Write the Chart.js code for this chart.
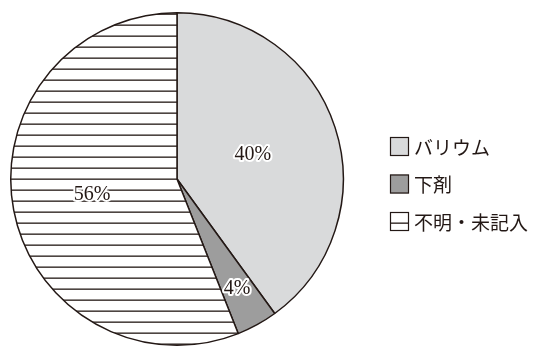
<!DOCTYPE html>
<html lang="ja">
<head>
<meta charset="utf-8">
<script src="https://cdn.jsdelivr.net/npm/chart.js@4.4.1/dist/chart.umd.min.js"></script>
<style>
  html, body { margin: 0; padding: 0; background: #fff; }
  #wrap { width: 537px; height: 347px; position: relative; }
</style>
</head>
<body>
<div id="wrap"><canvas id="pie"></canvas></div>
<script>
const categories = ["バリウム", "下剤", "不明・未記入"];
const shares = [40, 4, 56];

const INK = "#231815";
const LIGHT = "#d9dadb";
const DARK = "#9d9d9d";
// how far out (fraction of radius) each percent label sits
const labelRadius = [0.48, 0.75, 0.52];

// white with thin horizontal rules, for the "unknown" slice
function makeStripes() {
  const tile = document.createElement("canvas");
  tile.width = 8;
  tile.height = 11;
  const c = tile.getContext("2d");
  c.fillStyle = "#fff";
  c.fillRect(0, 0, 8, 11);
  c.fillStyle = INK;
  c.fillRect(0, 2.5, 8, 1.3);
  return c.createPattern(tile, "repeat");
}

const ctx = document.getElementById("pie").getContext("2d");
const stripes = makeStripes();
const fills = [LIGHT, DARK, stripes];

const percentLabels = {
  id: "percentLabels",
  afterDatasetsDraw(chart) {
    const c = chart.ctx;
    const arcs = chart.getDatasetMeta(0).data;
    c.save();
    c.font = "20px 'Liberation Serif', serif";
    c.textAlign = "center";
    c.textBaseline = "middle";
    c.lineJoin = "round";
    arcs.forEach((arc, i) => {
      const p = arc.getProps(["x", "y", "startAngle", "endAngle", "outerRadius"], true);
      const mid = (p.startAngle + p.endAngle) / 2;
      const r = p.outerRadius * labelRadius[i];
      const x = p.x + Math.cos(mid) * r;
      const y = p.y + Math.sin(mid) * r;
      const txt = shares[i] + "%";
      c.strokeStyle = "#fff";
      c.lineWidth = 4;
      c.strokeText(txt, x, y);
      c.fillStyle = INK;
      c.fillText(txt, x, y);
    });
    c.restore();
  }
};

const sideLegend = {
  id: "sideLegend",
  afterDraw(chart) {
    const c = chart.ctx;
    const left = 390, top = 137, box = 19, gap = 37.5;
    c.save();
    c.font = "19px 'Noto Sans CJK JP', sans-serif";
    c.textBaseline = "middle";
    categories.forEach((name, i) => {
      const y = top + i * gap;
      c.fillStyle = fills[i];
      c.fillRect(left, y, box, box);
      c.strokeStyle = INK;
      c.lineWidth = 1.2;
      c.strokeRect(left + 0.5, y + 0.5, box - 1, box - 1);
      c.fillStyle = INK;
      c.fillText(name, left + box + 5, y + box / 2 + 1);
    });
    c.restore();
  }
};

new Chart(ctx, {
  type: "pie",
  data: {
    labels: categories,
    datasets: [{
      data: shares,
      backgroundColor: fills,
      borderColor: INK,
      borderWidth: 1.5,
    }],
  },
  options: {
    responsive: true,
    maintainAspectRatio: false,
    animation: false,
    events: [],
    layout: { padding: { left: 10, top: 12, right: 193, bottom: 1 } },
    plugins: {
      legend: { display: false },
      tooltip: { enabled: false },
    },
  },
  plugins: [percentLabels, sideLegend],
});
</script>
</body>
</html>
